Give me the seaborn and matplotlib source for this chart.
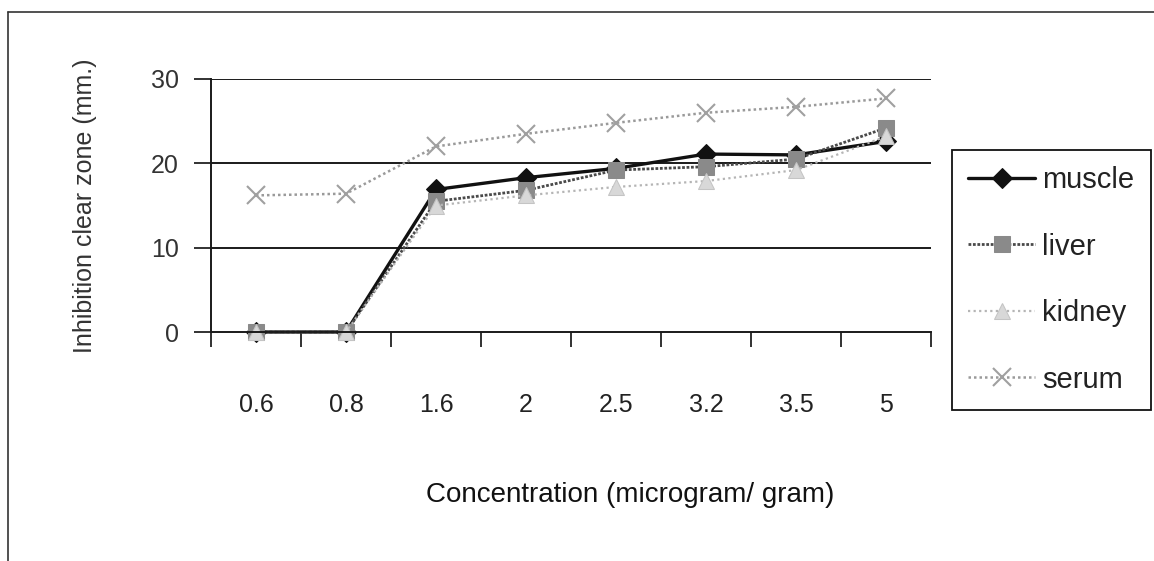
import matplotlib
matplotlib.use("Agg")
import matplotlib.pyplot as plt
from matplotlib.lines import Line2D
import seaborn as sns
import pandas as pd
import numpy as np

concentrations = ["0.6", "0.8", "1.6", "2", "2.5", "3.2", "3.5", "5"]
muscle = [0, 0, 16.9, 18.3, 19.4, 21.1, 21.0, 22.6]
liver = [0, 0, 15.5, 16.8, 19.2, 19.6, 20.5, 24.2]
kidney = [0, 0, 15.0, 16.2, 17.2, 17.9, 19.2, 23.2]
serum = [16.2, 16.4, 22.0, 23.5, 24.8, 26.0, 26.7, 27.7]
y_ticks = [0, 10, 20, 30]

sns.set_theme(style="white")
plt.rcParams["font.family"] = ["Liberation Sans", "DejaVu Sans"]

fig = plt.figure(figsize=(11.54, 5.61), dpi=100)
ax = fig.add_axes([211 / 1154, 1 - 332 / 561, 720 / 1154, 253 / 561])

pos = np.arange(len(concentrations))
df = pd.DataFrame({"pos": pos, "muscle": muscle, "liver": liver,
                   "kidney": kidney, "serum": serum})

styles = {
    "muscle": dict(color="#111111", linestyle="-", linewidth=2.4, marker="D",
                   markersize=10, markerfacecolor="#111111", markeredgecolor="#111111"),
    "liver": dict(color="#4a4a4a", linestyle=(0, (1, 0.6)), linewidth=2.0, marker="s",
                  markersize=12, markerfacecolor="#8a8a8a", markeredgecolor="#8a8a8a"),
    "kidney": dict(color="#b5b5b5", linestyle=(0, (1, 1.5)), linewidth=1.6, marker="^",
                   markersize=11, markerfacecolor="#d8d8d8", markeredgecolor="#c4c4c4"),
    "serum": dict(color="#9a9a9a", linestyle=(0, (1, 1.2)), linewidth=1.8, marker="x",
                  markersize=13, markeredgewidth=1.5, markeredgecolor="#a0a0a0"),
}

for name in ["muscle", "liver", "kidney", "serum"]:
    sns.lineplot(data=df, x="pos", y=name, ax=ax, label=name, clip_on=False,
                 **styles[name])

ax.set_xlim(-0.5, len(concentrations) - 0.5)
ax.set_ylim(0, 30)
ax.set_yticks(y_ticks)
ax.set_yticklabels([str(t) for t in y_ticks])
ax.set_xticks(pos)
ax.set_xticklabels(concentrations)
ax.set_xticks(np.arange(-0.5, len(concentrations), 1.0), minor=True)

ax.tick_params(axis="x", which="major", length=0, pad=44, labelsize=18,
               labelcolor="#222222")
ax.tick_params(axis="x", which="minor", length=11, width=1.3, color="#222222",
               direction="out", bottom=True)
ax.tick_params(axis="y", which="major", length=12, width=1.3, color="#222222",
               direction="out", left=True, pad=11, labelsize=18, labelcolor="#333333")

for y in [10, 20, 30]:
    ax.axhline(y, color="#1a1a1a", linewidth=1.4, zorder=0.5)

for s in ["top", "right"]:
    ax.spines[s].set_visible(False)
for s in ["left", "bottom"]:
    ax.spines[s].set_visible(True)
    ax.spines[s].set_color("#1a1a1a")
    ax.spines[s].set_linewidth(1.4)

ax.set_xlabel("")
ax.set_ylabel("Inhibition clear zone (mm.)", fontsize=18, color="#333333")
ax.yaxis.set_label_coords((97 - 211) / 720, 0.5)

fig.text(630 / 1154, 1 - 495 / 561, "Concentration (microgram/ gram)",
         ha="center", va="center", fontsize=20, color="#111111")

leg = ax.legend(loc="upper left", bbox_to_anchor=(952 / 1154, 1 - 150 / 561),
                bbox_transform=fig.transFigure, fontsize=21, frameon=True,
                fancybox=False, shadow=False, framealpha=1, labelspacing=1.32,
                handlelength=2.3, handletextpad=0.25, borderpad=0.55,
                borderaxespad=0)
leg.get_frame().set_edgecolor("#111111")
leg.get_frame().set_linewidth(1.3)
for t in leg.get_texts():
    t.set_color("#222222")

fig.add_artist(Line2D([8 / 1154, 8 / 1154], [0, 1 - 12 / 561],
                      transform=fig.transFigure, color="#333333", linewidth=1.2))
fig.add_artist(Line2D([8 / 1154, 1], [1 - 12 / 561, 1 - 12 / 561],
                      transform=fig.transFigure, color="#333333", linewidth=1.2))

fig.savefig("out.png", dpi=100, facecolor="white")
